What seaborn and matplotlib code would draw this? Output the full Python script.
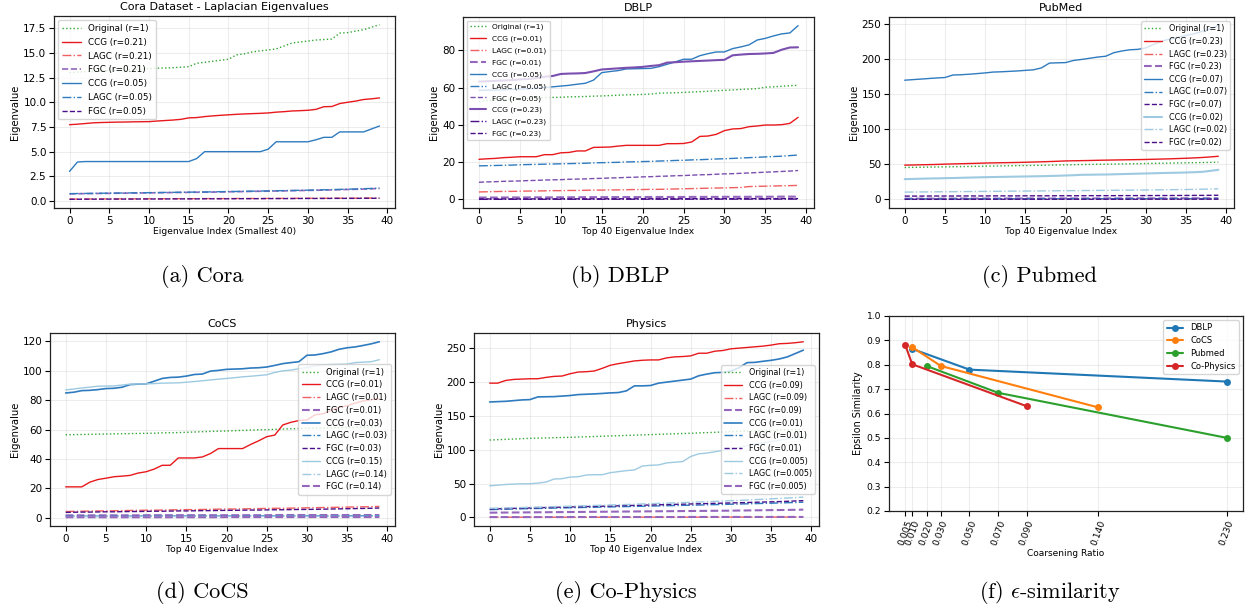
import numpy as np
import pandas as pd
import seaborn as sns
import matplotlib
matplotlib.use("Agg")
import matplotlib.pyplot as plt

sns.set_style("ticks")
plt.rcParams['font.family'] = ['DejaVu Sans']
plt.rcParams['mathtext.fontset'] = 'cm'
for k in ['text.color', 'axes.labelcolor', 'xtick.color', 'ytick.color']:
    plt.rcParams[k] = 'black'

idx = list(range(40))

# ---------------- Cora ----------------
cora_orig = [13.0, 13.05, 13.1, 13.12, 13.15, 13.2, 13.22, 13.25, 13.3, 13.35, 13.4, 13.45, 13.47, 13.5, 13.55, 13.6, 13.95, 14.05, 14.15, 14.25,
             14.35, 14.8, 14.9, 15.1, 15.2, 15.3, 15.4, 15.7, 16.0, 16.1, 16.2, 16.3, 16.35, 16.4, 17.0, 17.05, 17.2, 17.35, 17.6, 17.85]
cora_ccg_021 = [7.73, 7.78, 7.85, 7.92, 7.95, 7.97, 7.99, 8.0, 8.02, 8.03, 8.04, 8.1, 8.15, 8.2, 8.27, 8.42, 8.45, 8.55, 8.62, 8.68,
                8.73, 8.78, 8.82, 8.85, 8.88, 8.92, 9.0, 9.05, 9.12, 9.15, 9.19, 9.28, 9.55, 9.57, 9.87, 10.0, 10.12, 10.28, 10.35, 10.44]
cora_lagc_021 = [0.20, 0.20, 0.21, 0.21, 0.21, 0.22, 0.22, 0.22, 0.22, 0.23, 0.23, 0.23, 0.23, 0.24, 0.24, 0.24, 0.24, 0.25, 0.25, 0.25,
                 0.25, 0.26, 0.26, 0.26, 0.26, 0.27, 0.27, 0.27, 0.27, 0.28, 0.28, 0.28, 0.28, 0.29, 0.29, 0.29, 0.29, 0.30, 0.30, 0.30]
cora_fgc_021 = [0.72, 0.74, 0.75, 0.76, 0.77, 0.78, 0.79, 0.80, 0.81, 0.82, 0.83, 0.84, 0.85, 0.86, 0.87, 0.88, 0.89, 0.90, 0.91, 0.92,
                0.94, 0.95, 0.96, 0.98, 0.99, 1.00, 1.02, 1.03, 1.05, 1.06, 1.08, 1.09, 1.11, 1.13, 1.15, 1.17, 1.19, 1.21, 1.24, 1.27]
cora_ccg_005 = [3.0, 3.95, 4.0, 4.0, 4.0, 4.0, 4.0, 4.0, 4.0, 4.0, 4.0, 4.0, 4.0, 4.0, 4.0, 4.0, 4.3, 5.0, 5.0, 5.0,
                5.0, 5.0, 5.0, 5.0, 5.0, 5.25, 6.0, 6.0, 6.0, 6.0, 6.0, 6.2, 6.45, 6.45, 7.0, 7.0, 7.0, 7.0, 7.3, 7.6]
cora_lagc_005 = [0.75, 0.76, 0.77, 0.78, 0.79, 0.80, 0.81, 0.82, 0.83, 0.84, 0.85, 0.86, 0.87, 0.88, 0.89, 0.90, 0.91, 0.92, 0.93, 0.95,
                 0.96, 0.97, 0.99, 1.00, 1.01, 1.03, 1.04, 1.06, 1.07, 1.09, 1.10, 1.12, 1.14, 1.16, 1.18, 1.20, 1.22, 1.25, 1.28, 1.31]
cora_fgc_005 = [0.18, 0.18, 0.19, 0.19, 0.19, 0.20, 0.20, 0.20, 0.20, 0.21, 0.21, 0.21, 0.21, 0.22, 0.22, 0.22, 0.22, 0.23, 0.23, 0.23,
                0.23, 0.24, 0.24, 0.24, 0.24, 0.25, 0.25, 0.25, 0.25, 0.26, 0.26, 0.26, 0.26, 0.27, 0.27, 0.27, 0.27, 0.28, 0.28, 0.28]

# ---------------- DBLP ----------------
dblp_orig = [52.5, 53.0, 53.3, 53.6, 53.8, 54.0, 54.2, 54.4, 54.6, 54.7, 54.8, 55.0, 55.1, 55.2, 55.4, 55.5, 55.7, 55.9, 56.1, 56.2,
             56.3, 56.5, 57.0, 57.1, 57.2, 57.4, 57.6, 57.8, 58.0, 58.3, 58.5, 58.7, 59.0, 59.2, 59.4, 60.2, 60.4, 60.7, 61.0, 61.2]
dblp_ccg_001 = [21.5, 21.8, 22.0, 22.4, 22.6, 22.9, 22.9, 22.9, 24.0, 24.0, 25.0, 25.2, 26.0, 26.0, 27.9, 28.0, 28.1, 28.6, 29.0, 29.0,
                29.0, 29.0, 29.0, 29.9, 29.9, 30.0, 30.8, 33.8, 34.0, 34.9, 36.9, 37.8, 38.0, 39.0, 39.4, 39.9, 39.9, 40.1, 40.8, 44.0]
dblp_lagc_001 = [4.0, 4.1, 4.2, 4.3, 4.3, 4.4, 4.5, 4.5, 4.6, 4.7, 4.7, 4.8, 4.8, 4.9, 5.0, 5.0, 5.1, 5.1, 5.2, 5.3,
                 5.3, 5.4, 5.4, 5.5, 5.6, 5.7, 5.8, 5.9, 6.0, 6.1, 6.2, 6.3, 6.4, 6.9, 7.0, 7.1, 7.2, 7.3, 7.4, 7.5]
dblp_fgc_001 = [1.0, 1.0, 1.0, 1.05, 1.05, 1.05, 1.1, 1.1, 1.1, 1.1, 1.15, 1.15, 1.15, 1.2, 1.2, 1.2, 1.2, 1.25, 1.25, 1.25,
                1.25, 1.3, 1.3, 1.3, 1.3, 1.3, 1.35, 1.35, 1.35, 1.35, 1.4, 1.4, 1.4, 1.4, 1.45, 1.45, 1.45, 1.5, 1.5, 1.5]
dblp_ccg_005 = [58.5, 58.6, 58.7, 58.8, 59.0, 59.2, 59.4, 59.7, 60.0, 60.4, 60.8, 61.2, 61.8, 62.3, 64.0, 68.0, 68.6, 69.1, 70.0, 70.1,
                70.2, 70.3, 71.2, 72.5, 73.8, 75.2, 75.2, 77.1, 78.2, 79.1, 79.1, 80.9, 81.8, 82.9, 85.5, 86.4, 87.7, 88.8, 89.3, 93.2]
dblp_lagc_005 = [18.0, 18.1, 18.2, 18.3, 18.4, 18.6, 18.7, 18.8, 18.9, 19.0, 19.1, 19.2, 19.3, 19.4, 19.6, 19.7, 19.8, 19.9, 20.1, 20.2,
                 20.3, 20.4, 20.6, 20.7, 20.9, 21.0, 21.2, 21.3, 21.5, 21.7, 21.8, 22.0, 22.2, 22.4, 22.6, 22.8, 23.0, 23.2, 23.5, 23.8]
dblp_fgc_005 = [9.2, 9.4, 9.5, 9.7, 9.8, 9.9, 10.1, 10.2, 10.4, 10.5, 10.6, 10.8, 10.9, 11.0, 11.2, 11.3, 11.5, 11.6, 11.8, 11.9,
                12.1, 12.2, 12.4, 12.5, 12.7, 12.8, 13.0, 13.2, 13.3, 13.5, 13.7, 13.8, 14.0, 14.2, 14.4, 14.6, 14.8, 15.0, 15.2, 15.5]
dblp_ccg_023 = [63.2, 63.4, 63.6, 63.8, 64.0, 64.4, 64.6, 65.0, 65.8, 66.2, 67.3, 67.5, 67.6, 67.8, 68.7, 69.7, 70.0, 70.3, 70.6, 70.8,
                71.1, 71.6, 72.0, 73.4, 73.6, 73.9, 74.1, 74.3, 74.5, 74.7, 74.9, 77.3, 77.7, 78.0, 78.1, 78.3, 78.6, 80.3, 81.5, 81.6]
dblp_lagc_023 = [0.05, 0.05, 0.05, 0.06, 0.06, 0.06, 0.07, 0.07, 0.07, 0.08, 0.08, 0.08, 0.09, 0.09, 0.09, 0.10, 0.10, 0.10, 0.11, 0.11,
                 0.11, 0.12, 0.12, 0.12, 0.13, 0.13, 0.13, 0.14, 0.14, 0.14, 0.15, 0.15, 0.15, 0.16, 0.16, 0.16, 0.17, 0.17, 0.17, 0.18]
dblp_fgc_023 = [0.25, 0.25, 0.26, 0.26, 0.27, 0.27, 0.28, 0.28, 0.29, 0.29, 0.30, 0.30, 0.31, 0.31, 0.32, 0.32, 0.33, 0.33, 0.34, 0.34,
                0.35, 0.35, 0.36, 0.36, 0.37, 0.37, 0.38, 0.38, 0.39, 0.39, 0.40, 0.40, 0.41, 0.41, 0.42, 0.42, 0.43, 0.43, 0.44, 0.45]

# ---------------- PubMed ----------------
pub_orig = [45.6, 45.8, 46.0, 46.2, 46.4, 46.5, 46.7, 46.9, 47.1, 47.3, 47.5, 47.7, 47.9, 48.1, 48.3, 48.4, 48.6, 48.8, 49.0, 49.2,
            49.4, 49.6, 49.8, 50.0, 50.2, 50.3, 50.5, 50.7, 50.9, 51.1, 51.3, 51.5, 51.7, 51.9, 52.1, 52.3, 52.5, 52.7, 52.9, 53.2]
pub_ccg_023 = [49.0, 49.2, 49.5, 49.7, 50.0, 50.4, 50.7, 51.0, 51.3, 51.6, 52.0, 52.2, 52.4, 52.6, 52.8, 53.1, 53.4, 53.7, 54.1, 54.5,
               55.0, 55.2, 55.4, 55.6, 55.9, 56.1, 56.3, 56.5, 56.7, 56.9, 57.1, 57.4, 57.7, 58.0, 58.4, 58.8, 59.3, 59.9, 60.7, 61.6]
pub_lagc_023 = [0.4, 0.4, 0.4, 0.4, 0.4, 0.4, 0.4, 0.4, 0.5, 0.5, 0.5, 0.5, 0.5, 0.5, 0.5, 0.5, 0.5, 0.5, 0.5, 0.5,
                0.6, 0.6, 0.6, 0.6, 0.6, 0.6, 0.6, 0.6, 0.6, 0.6, 0.6, 0.7, 0.7, 0.7, 0.7, 0.7, 0.7, 0.7, 0.7, 0.7]
pub_fgc_023 = [1.2, 1.2, 1.2, 1.2, 1.2, 1.2, 1.3, 1.3, 1.3, 1.3, 1.3, 1.3, 1.3, 1.4, 1.4, 1.4, 1.4, 1.4, 1.4, 1.4,
               1.5, 1.5, 1.5, 1.5, 1.5, 1.5, 1.5, 1.6, 1.6, 1.6, 1.6, 1.6, 1.6, 1.6, 1.7, 1.7, 1.7, 1.7, 1.7, 1.7]
pub_ccg_007 = [170.2, 171.0, 171.8, 172.6, 173.4, 174.0, 177.6, 178.0, 178.7, 179.6, 180.6, 181.8, 182.2, 182.8, 183.4, 184.2, 185.0, 187.7, 194.6, 195.0,
               195.3, 198.4, 199.8, 201.5, 203.2, 204.4, 209.4, 211.9, 213.6, 214.2, 216.3, 221.5, 226.0, 229.0, 231.5, 234.0, 236.5, 240.0, 243.5, 248.0]
pub_lagc_007 = [0.8, 0.8, 0.8, 0.8, 0.8, 0.8, 0.8, 0.9, 0.9, 0.9, 0.9, 0.9, 0.9, 0.9, 0.9, 1.0, 1.0, 1.0, 1.0, 1.0,
                1.0, 1.0, 1.0, 1.0, 1.1, 1.1, 1.1, 1.1, 1.1, 1.1, 1.1, 1.1, 1.2, 1.2, 1.2, 1.2, 1.2, 1.2, 1.2, 1.3]
pub_fgc_007 = [0.2, 0.2, 0.2, 0.2, 0.2, 0.2, 0.2, 0.2, 0.2, 0.2, 0.3, 0.3, 0.3, 0.3, 0.3, 0.3, 0.3, 0.3, 0.3, 0.3,
               0.3, 0.3, 0.3, 0.3, 0.3, 0.3, 0.3, 0.3, 0.3, 0.3, 0.4, 0.4, 0.4, 0.4, 0.4, 0.4, 0.4, 0.4, 0.4, 0.4]
pub_ccg_002 = [29.0, 29.3, 29.6, 29.9, 30.1, 30.4, 30.6, 30.9, 31.2, 31.5, 31.8, 32.0, 32.2, 32.4, 32.6, 32.8, 33.0, 33.2, 33.5, 33.8,
               34.2, 34.6, 35.2, 35.3, 35.5, 35.6, 35.9, 36.2, 36.5, 36.8, 37.1, 37.4, 37.7, 38.0, 38.2, 38.5, 38.9, 39.4, 40.8, 42.3]
pub_lagc_002 = [10.5, 10.6, 10.7, 10.8, 10.9, 11.0, 11.1, 11.2, 11.3, 11.4, 11.5, 11.6, 11.7, 11.8, 11.9, 12.0, 12.1, 12.2, 12.3, 12.4,
                12.5, 12.6, 12.7, 12.8, 12.9, 13.0, 13.1, 13.2, 13.3, 13.4, 13.5, 13.7, 13.8, 13.9, 14.1, 14.2, 14.4, 14.6, 14.9, 15.2]
pub_fgc_002 = [4.8, 4.8, 4.8, 4.9, 4.9, 4.9, 4.9, 5.0, 5.0, 5.0, 5.0, 5.1, 5.1, 5.1, 5.1, 5.2, 5.2, 5.2, 5.2, 5.3,
               5.3, 5.3, 5.3, 5.4, 5.4, 5.4, 5.4, 5.5, 5.5, 5.5, 5.5, 5.6, 5.6, 5.6, 5.7, 5.7, 5.8, 5.8, 5.9, 6.0]

# ---------------- CoCS ----------------
cocs_orig = [56.4, 56.5, 56.6, 56.7, 56.8, 56.9, 57.0, 57.1, 57.2, 57.3, 57.4, 57.5, 57.7, 57.8, 57.9, 58.1, 58.3, 58.5, 58.7, 58.8,
             59.0, 59.2, 59.4, 59.6, 59.8, 59.9, 60.1, 60.3, 60.5, 60.6, 60.8, 60.9, 61.0, 61.1, 61.3, 61.4, 61.5, 61.7, 61.8, 62.0]
cocs_ccg_001 = [20.9, 20.9, 20.9, 24.1, 25.9, 26.8, 27.8, 28.2, 28.7, 30.3, 31.2, 33.0, 35.6, 35.6, 40.6, 40.6, 40.6, 41.3, 43.6, 47.0,
                47.0, 47.0, 47.0, 49.8, 52.3, 55.1, 56.2, 63.1, 64.9, 66.1, 66.5, 70.0, 70.7, 73.0, 75.0, 76.2, 78.0, 79.5, 80.3, 81.0]
cocs_lagc_001 = [4.1, 4.2, 4.3, 4.4, 4.5, 4.5, 4.6, 4.7, 4.8, 4.9, 5.0, 5.0, 5.1, 5.2, 5.3, 5.4, 5.4, 5.5, 5.6, 5.7,
                 5.8, 5.8, 5.9, 6.0, 6.1, 6.2, 6.3, 6.3, 6.4, 6.5, 6.6, 6.7, 6.8, 6.9, 7.0, 7.1, 7.2, 7.3, 7.4, 7.6]
cocs_fgc_001 = [1.5, 1.5, 1.5, 1.5, 1.5, 1.5, 1.5, 1.5, 1.5, 1.5, 1.6, 1.6, 1.6, 1.6, 1.6, 1.6, 1.6, 1.6, 1.6, 1.6,
                1.6, 1.6, 1.6, 1.6, 1.6, 1.6, 1.7, 1.7, 1.7, 1.7, 1.7, 1.7, 1.7, 1.7, 1.7, 1.7, 1.7, 1.7, 1.7, 1.7]
cocs_ccg_003 = [84.9, 85.4, 86.5, 86.7, 87.2, 87.9, 88.1, 88.8, 90.6, 90.9, 91.1, 92.9, 94.8, 95.5, 95.7, 96.4, 97.5, 97.8, 99.8, 100.3,
                101.0, 101.2, 101.4, 101.9, 102.1, 102.6, 103.7, 104.9, 105.6, 106.2, 110.6, 110.8, 111.7, 112.9, 114.7, 115.7, 116.3, 117.3, 118.4, 119.8]
cocs_lagc_003 = [0.9, 0.9, 0.9, 0.9, 0.9, 0.9, 0.9, 0.9, 0.9, 0.9, 1.0, 1.0, 1.0, 1.0, 1.0, 1.0, 1.0, 1.0, 1.0, 1.0,
                 1.0, 1.0, 1.0, 1.0, 1.1, 1.1, 1.1, 1.1, 1.1, 1.1, 1.1, 1.1, 1.1, 1.1, 1.1, 1.1, 1.2, 1.2, 1.2, 1.2]
cocs_fgc_003 = [3.5, 3.6, 3.7, 3.7, 3.8, 3.9, 3.9, 4.0, 4.1, 4.1, 4.2, 4.3, 4.3, 4.4, 4.5, 4.5, 4.6, 4.7, 4.7, 4.8,
                4.9, 4.9, 5.0, 5.1, 5.1, 5.2, 5.3, 5.3, 5.4, 5.5, 5.5, 5.6, 5.7, 5.8, 5.9, 6.0, 6.1, 6.2, 6.3, 6.5]
cocs_ccg_015 = [87.0, 87.6, 88.3, 88.9, 89.5, 89.6, 89.7, 90.3, 90.9, 91.0, 91.1, 91.3, 91.6, 91.7, 91.8, 92.2, 92.7, 93.2, 93.8, 94.3,
                94.8, 95.3, 95.9, 96.3, 96.8, 97.3, 98.9, 100.0, 100.5, 101.4, 102.3, 103.2, 104.0, 104.3, 104.4, 104.6, 105.6, 105.9, 106.2, 107.6]
cocs_lagc_014 = [0.6, 0.6, 0.6, 0.6, 0.6, 0.6, 0.6, 0.6, 0.6, 0.6, 0.7, 0.7, 0.7, 0.7, 0.7, 0.7, 0.7, 0.7, 0.7, 0.7,
                 0.7, 0.7, 0.7, 0.7, 0.7, 0.8, 0.8, 0.8, 0.8, 0.8, 0.8, 0.8, 0.8, 0.8, 0.8, 0.8, 0.8, 0.8, 0.8, 0.8]
cocs_fgc_014 = [0.2, 0.2, 0.2, 0.2, 0.2, 0.2, 0.2, 0.2, 0.2, 0.2, 0.2, 0.2, 0.2, 0.2, 0.2, 0.2, 0.2, 0.2, 0.2, 0.2,
                0.3, 0.3, 0.3, 0.3, 0.3, 0.3, 0.3, 0.3, 0.3, 0.3, 0.3, 0.3, 0.3, 0.3, 0.3, 0.3, 0.3, 0.3, 0.3, 0.3]

# ---------------- Physics ----------------
phys_orig = [114.3, 114.8, 115.3, 115.8, 116.3, 116.8, 117.1, 117.4, 117.7, 118.0, 118.3, 118.7, 119.1, 119.5, 119.9, 120.3, 120.7, 121.1, 121.5, 121.9,
             122.3, 122.7, 123.1, 123.5, 123.9, 124.3, 124.8, 125.2, 125.7, 126.2, 126.7, 127.1, 127.5, 127.9, 128.2, 128.5, 129.0, 129.4, 129.8, 130.2]
phys_ccg_009 = [198.3, 198.3, 202.3, 203.8, 204.3, 204.8, 204.8, 206.8, 208.3, 208.8, 212.2, 214.7, 215.2, 216.2, 220.2, 224.7, 227.1, 229.1, 231.1, 232.1,
                232.6, 232.6, 235.6, 237.1, 237.6, 238.6, 242.5, 242.5, 245.5, 246.5, 249.0, 250.0, 251.0, 252.0, 253.0, 254.5, 256.5, 257.0, 258.0, 259.4]
phys_lagc_009 = [0.3, 0.3, 0.3, 0.3, 0.3, 0.3, 0.3, 0.3, 0.3, 0.3, 0.3, 0.3, 0.3, 0.3, 0.3, 0.4, 0.4, 0.4, 0.4, 0.4,
                 0.4, 0.4, 0.4, 0.4, 0.4, 0.4, 0.4, 0.4, 0.4, 0.4, 0.5, 0.5, 0.5, 0.5, 0.5, 0.5, 0.5, 0.5, 0.5, 0.5]
phys_fgc_009 = [7.0, 7.1, 7.2, 7.3, 7.4, 7.5, 7.6, 7.7, 7.8, 7.9, 8.0, 8.1, 8.2, 8.3, 8.4, 8.5, 8.6, 8.7, 8.8, 8.9,
                9.0, 9.1, 9.2, 9.3, 9.4, 9.5, 9.6, 9.7, 9.8, 9.9, 10.0, 10.2, 10.3, 10.5, 10.6, 10.8, 10.9, 11.1, 11.3, 11.5]
phys_ccg_001 = [170.5, 171.0, 171.5, 172.5, 173.5, 174.0, 178.0, 178.2, 178.4, 179.2, 180.0, 181.4, 181.9, 182.4, 183.1, 183.9, 184.4, 186.9, 194.3, 194.3,
                194.8, 198.3, 199.8, 201.3, 202.8, 204.3, 209.2, 211.7, 213.7, 214.2, 216.2, 221.0, 228.6, 229.0, 230.6, 232.0, 234.0, 237.0, 242.0, 247.0]
phys_lagc_001 = [11.5, 11.8, 12.1, 12.4, 12.7, 13.0, 13.2, 13.5, 13.8, 14.0, 14.3, 14.5, 14.8, 15.0, 15.3, 15.5, 15.8, 16.0, 16.3, 16.5,
                 16.8, 17.0, 17.3, 17.5, 17.8, 18.0, 18.3, 18.6, 18.9, 19.2, 19.5, 19.8, 20.1, 20.4, 20.7, 21.0, 21.4, 21.7, 22.1, 22.5]
phys_fgc_001 = [12.5, 12.8, 13.1, 13.4, 13.7, 14.0, 14.3, 14.6, 14.9, 15.2, 15.5, 15.8, 16.0, 16.3, 16.6, 16.9, 17.2, 17.5, 17.8, 18.1,
                18.4, 18.7, 19.0, 19.3, 19.6, 19.9, 20.2, 20.5, 20.8, 21.1, 21.4, 21.7, 22.0, 22.4, 22.7, 23.0, 23.4, 23.8, 24.3, 24.8]
phys_ccg_0005 = [46.7, 47.7, 48.7, 49.2, 49.7, 49.7, 50.7, 52.2, 56.7, 57.2, 59.6, 60.1, 62.6, 63.1, 63.1, 66.1, 67.6, 69.1, 70.1, 76.0,
                 77.0, 77.5, 80.5, 81.5, 82.5, 90.0, 94.0, 95.0, 97.0, 99.0, 100.0, 103.0, 106.0, 108.0, 110.0, 112.0, 114.0, 116.0, 118.0, 120.0]
phys_lagc_0005 = [13.5, 13.8, 14.1, 14.4, 14.7, 15.0, 15.3, 15.6, 16.0, 16.3, 16.6, 17.0, 17.3, 17.7, 18.0, 18.4, 18.7, 19.1, 19.5, 19.9,
                  20.3, 20.7, 21.1, 21.5, 21.9, 22.3, 22.8, 23.2, 23.7, 24.2, 24.7, 25.2, 25.7, 26.3, 26.9, 27.5, 28.1, 28.7, 29.3, 30.0]
phys_fgc_0005 = [0.5, 0.5, 0.5, 0.5, 0.5, 0.5, 0.5, 0.5, 0.5, 0.5, 0.6, 0.6, 0.6, 0.6, 0.6, 0.6, 0.6, 0.6, 0.6, 0.6,
                 0.6, 0.6, 0.6, 0.6, 0.6, 0.7, 0.7, 0.7, 0.7, 0.7, 0.7, 0.7, 0.7, 0.7, 0.7, 0.7, 0.7, 0.7, 0.7, 0.7]

# ---------------- epsilon similarity ----------------
eps_ticks = [0.005, 0.01, 0.02, 0.03, 0.05, 0.07, 0.09, 0.14, 0.23]
eps_dblp_r = [0.01, 0.05, 0.23]
eps_dblp = [0.865, 0.780, 0.731]
eps_cocs_r = [0.01, 0.03, 0.14]
eps_cocs = [0.872, 0.795, 0.625]
eps_pub_r = [0.02, 0.07, 0.23]
eps_pub = [0.795, 0.685, 0.500]
eps_phys_r = [0.005, 0.01, 0.09]
eps_phys = [0.883, 0.802, 0.630]

# ---------------- styling ----------------
GREEN = '#33a533'
RED = '#e8191c'
LRED = '#f06060'
PURP = '#9467bd'
BLUE = '#2f7bbf'
DPURP = '#4b0f8a'
MPURP = '#7a4fb0'
LBLUE = '#9ecae1'

W, H = 1248, 611
fig = plt.figure(figsize=(W / 100, H / 100), dpi=100)


def add_ax(x0, y0, x1, y1):
    return fig.add_axes([x0 / W, 1 - y1 / H, (x1 - x0) / W, (y1 - y0) / H])


def line(ax, vals, color, ls, lw, label):
    sns.lineplot(x=idx, y=vals, ax=ax, color=color, linestyle=ls, linewidth=lw, label=label)


def finish(ax, title, xlabel, legend_loc, legend_fs, spacing=0.45, title_fs=8):
    ax.set_title(title, fontsize=title_fs, pad=4)
    ax.set_xlabel(xlabel, fontsize=6.6, labelpad=1)
    ax.set_ylabel('Eigenvalue', fontsize=7.2, labelpad=2)
    ax.tick_params(labelsize=7.5, length=3.5, width=0.8, pad=2)
    ax.set_xticks([0, 5, 10, 15, 20, 25, 30, 35, 40])
    ax.grid(True, alpha=0.35, linewidth=0.8)
    for s in ax.spines.values():
        s.set_color('#222222')
        s.set_linewidth(0.9)
    ax.legend(loc=legend_loc, fontsize=legend_fs, handlelength=2.2, labelspacing=spacing,
              borderpad=0.4, framealpha=0.8, edgecolor='#cccccc', fancybox=True)


# (a) Cora
ax = add_ax(54, 16, 395, 208)
line(ax, cora_orig, GREEN, ':', 1.0, 'Original (r=1)')
line(ax, cora_ccg_021, RED, '-', 1.0, 'CCG (r=0.21)')
line(ax, cora_lagc_021, LRED, '-.', 1.0, 'LAGC (r=0.21)')
line(ax, cora_fgc_021, PURP, '--', 1.2, 'FGC (r=0.21)')
line(ax, cora_ccg_005, BLUE, '-', 1.0, 'CCG (r=0.05)')
line(ax, cora_lagc_005, BLUE, '-.', 1.0, 'LAGC (r=0.05)')
line(ax, cora_fgc_005, DPURP, '--', 1.0, 'FGC (r=0.05)')
finish(ax, 'Cora Dataset - Laplacian Eigenvalues', 'Eigenvalue Index (Smallest 40)', 'upper left', 6.3, spacing=0.55)

# (b) DBLP
ax = add_ax(463, 17, 814, 208)
line(ax, dblp_orig, GREEN, ':', 1.0, 'Original (r=1)')
line(ax, dblp_ccg_001, RED, '-', 1.0, 'CCG (r=0.01)')
line(ax, dblp_lagc_001, LRED, '-.', 1.0, 'LAGC (r=0.01)')
line(ax, dblp_fgc_001, PURP, '--', 1.5, 'FGC (r=0.01)')
line(ax, dblp_ccg_005, BLUE, '-', 1.0, 'CCG (r=0.05)')
line(ax, dblp_lagc_005, BLUE, '-.', 1.0, 'LAGC (r=0.05)')
line(ax, dblp_fgc_005, MPURP, '--', 1.0, 'FGC (r=0.05)')
line(ax, dblp_ccg_023, MPURP, '-', 1.5, 'CCG (r=0.23)')
line(ax, dblp_lagc_023, DPURP, '-.', 1.0, 'LAGC (r=0.23)')
line(ax, dblp_fgc_023, DPURP, '--', 1.0, 'FGC (r=0.23)')
finish(ax, 'DBLP', 'Top 40 Eigenvalue Index', 'upper left', 5.4, spacing=0.68)
ax.set_yticks([0, 20, 40, 60, 80])

# (c) PubMed
ax = add_ax(889, 17, 1234, 208)
line(ax, pub_orig, GREEN, ':', 1.0, 'Original (r=1)')
line(ax, pub_ccg_023, RED, '-', 1.0, 'CCG (r=0.23)')
line(ax, pub_lagc_023, LRED, '-.', 1.0, 'LAGC (r=0.23)')
line(ax, pub_fgc_023, PURP, '--', 1.5, 'FGC (r=0.23)')
line(ax, pub_ccg_007, BLUE, '-', 1.0, 'CCG (r=0.07)')
line(ax, pub_lagc_007, BLUE, '-.', 1.0, 'LAGC (r=0.07)')
line(ax, pub_fgc_007, DPURP, '--', 1.0, 'FGC (r=0.07)')
line(ax, pub_ccg_002, LBLUE, '-', 1.5, 'CCG (r=0.02)')
line(ax, pub_lagc_002, LBLUE, '-.', 1.0, 'LAGC (r=0.02)')
line(ax, pub_fgc_002, DPURP, '--', 1.0, 'FGC (r=0.02)')
finish(ax, 'PubMed', 'Top 40 Eigenvalue Index', 'upper right', 5.8)

# (d) CoCS
ax = add_ax(50, 333, 395, 526)
line(ax, cocs_orig, GREEN, ':', 1.0, 'Original (r=1)')
line(ax, cocs_ccg_001, RED, '-', 1.0, 'CCG (r=0.01)')
line(ax, cocs_lagc_001, LRED, '-.', 1.0, 'LAGC (r=0.01)')
line(ax, cocs_fgc_001, PURP, '--', 1.5, 'FGC (r=0.01)')
line(ax, cocs_ccg_003, BLUE, '-', 1.2, 'CCG (r=0.03)')
line(ax, cocs_lagc_003, BLUE, '-.', 1.0, 'LAGC (r=0.03)')
line(ax, cocs_fgc_003, DPURP, '--', 1.0, 'FGC (r=0.03)')
line(ax, cocs_ccg_015, LBLUE, '-', 1.0, 'CCG (r=0.15)')
line(ax, cocs_lagc_014, LBLUE, '-.', 1.0, 'LAGC (r=0.14)')
line(ax, cocs_fgc_014, PURP, '--', 1.5, 'FGC (r=0.14)')
finish(ax, 'CoCS', 'Top 40 Eigenvalue Index', 'center right', 6.0)

# (e) Physics
ax = add_ax(474, 333, 819, 526)
line(ax, phys_orig, GREEN, ':', 1.0, 'Original (r=1)')
line(ax, phys_ccg_009, RED, '-', 1.0, 'CCG (r=0.09)')
line(ax, phys_lagc_009, LRED, '-.', 1.0, 'LAGC (r=0.09)')
line(ax, phys_fgc_009, PURP, '--', 1.5, 'FGC (r=0.09)')
line(ax, phys_ccg_001, BLUE, '-', 1.2, 'CCG (r=0.01)')
line(ax, phys_lagc_001, BLUE, '-.', 1.0, 'LAGC (r=0.01)')
line(ax, phys_fgc_001, DPURP, '--', 1.0, 'FGC (r=0.01)')
line(ax, phys_ccg_0005, LBLUE, '-', 1.0, 'CCG (r=0.005)')
line(ax, phys_lagc_0005, LBLUE, '-.', 1.0, 'LAGC (r=0.005)')
line(ax, phys_fgc_0005, PURP, '--', 1.5, 'FGC (r=0.005)')
finish(ax, 'Physics', 'Top 40 Eigenvalue Index', 'center right', 5.8)

# (f) epsilon similarity
ax = add_ax(889, 316, 1243, 511)
for r, v, c, lab in [(eps_dblp_r, eps_dblp, '#1f77b4', 'DBLP'),
                     (eps_cocs_r, eps_cocs, '#ff7f0e', 'CoCS'),
                     (eps_pub_r, eps_pub, '#2ca02c', 'Pubmed'),
                     (eps_phys_r, eps_phys, '#d62728', 'Co-Physics')]:
    sns.lineplot(x=r, y=v, ax=ax, color=c, marker='o', markersize=5, markeredgewidth=0,
                 linewidth=1.5, label=lab)
ax.set_ylim(0.2, 1.0)
ax.set_xticks(eps_ticks)
ax.set_xticklabels([f'{t:.3f}' for t in eps_ticks], rotation=70)
ax.set_xlabel('Coarsening Ratio', fontsize=6.5, labelpad=2)
ax.set_ylabel('Epsilon Similarity', fontsize=6.9, labelpad=3)
ax.tick_params(labelsize=6.6, length=3.5, width=0.8, pad=2)
ax.grid(True, alpha=0.35, linewidth=0.8)
for s in ax.spines.values():
    s.set_color('#222222')
    s.set_linewidth(0.9)
ax.legend(loc='upper right', fontsize=6.0, labelspacing=0.45, borderpad=0.4,
          framealpha=0.8, edgecolor='#cccccc')

# captions
caps = [(202, 276, '(a) Cora'), (620, 276, '(b) DBLP'), (1040, 276, '(c) Pubmed'),
        (202, 592, '(d) CoCS'), (626, 592, '(e) Co-Physics'), (1050, 592, r'(f) $\epsilon$-similarity')]
for cx, cy, t in caps:
    fig.text(cx / W, 1 - cy / H, t, family='cmr10', fontsize=16, ha='center', va='center')

fig.savefig('out.png', dpi=100)
